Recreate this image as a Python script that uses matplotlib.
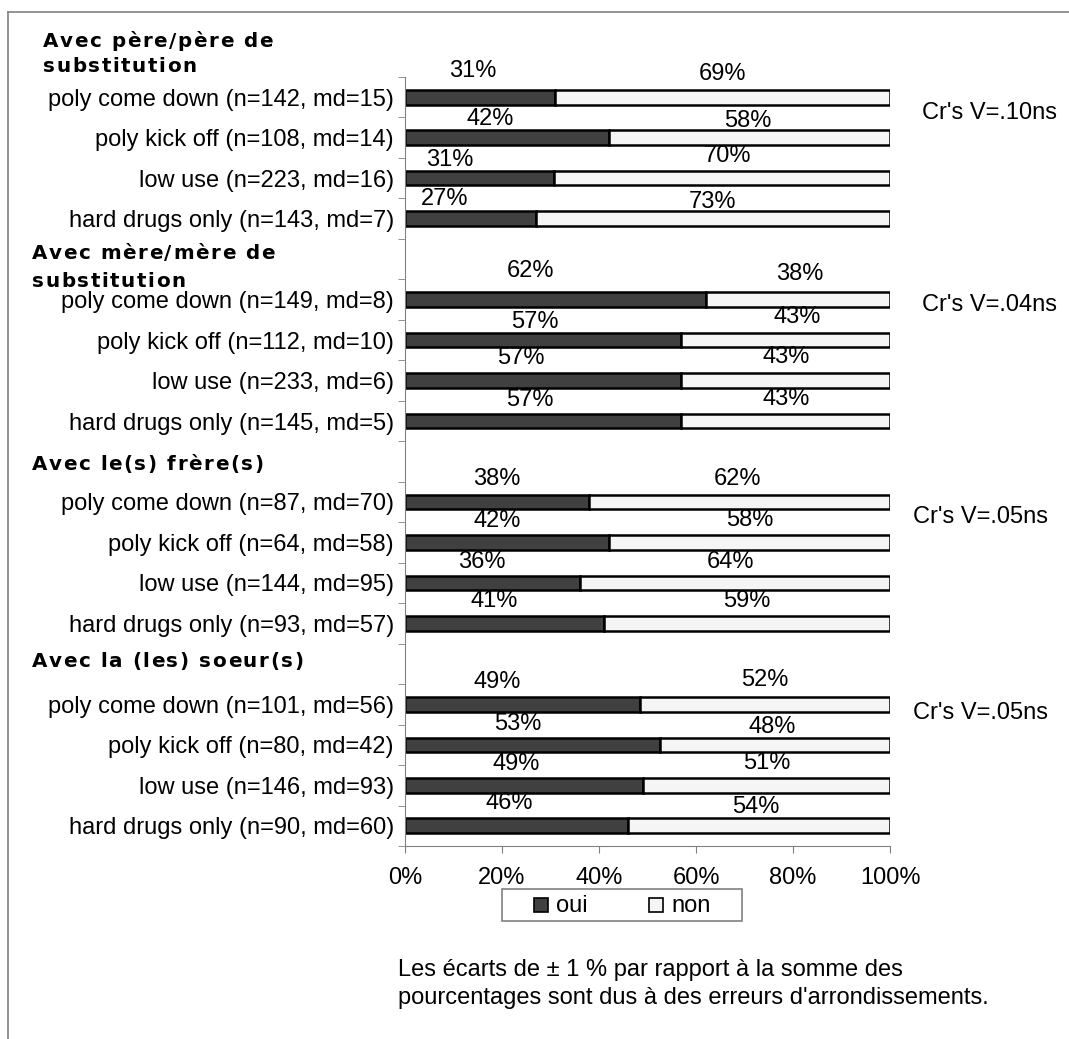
import matplotlib.pyplot as plt
import numpy as np
from matplotlib.patches import Rectangle
from matplotlib.lines import Line2D
from matplotlib.font_manager import FontProperties

plt.rcParams['font.family'] = ['Liberation Sans', 'DejaVu Sans']

W, H = 1069, 1039

groups = [["Avec père/père de", "substitution"],
          ["Avec mère/mère de", "substitution"],
          ["Avec le(s) frère(s)"],
          ["Avec la (les) soeur(s)"]]

row_labels = [
    ["poly come down (n=142, md=15)", "poly kick off (n=108, md=14)",
     "low use (n=223, md=16)", "hard drugs only (n=143, md=7)"],
    ["poly come down (n=149, md=8)", "poly kick off (n=112, md=10)",
     "low use (n=233, md=6)", "hard drugs only (n=145, md=5)"],
    ["poly come down (n=87, md=70)", "poly kick off (n=64, md=58)",
     "low use (n=144, md=95)", "hard drugs only (n=93, md=57)"],
    ["poly come down (n=101, md=56)", "poly kick off (n=80, md=42)",
     "low use (n=146, md=93)", "hard drugs only (n=90, md=60)"],
]

oui = [[31, 42, 31, 27],
       [62, 57, 57, 57],
       [38, 42, 36, 41],
       [49, 53, 49, 46]]
non = [[69, 58, 70, 73],
       [38, 43, 43, 43],
       [62, 58, 64, 59],
       [52, 48, 51, 54]]

cramer = ["Cr's V=.10ns", "Cr's V=.04ns", "Cr's V=.05ns", "Cr's V=.05ns"]

note = ["Les écarts de ± 1 % par rapport à la somme des",
        "pourcentages sont dus à des erreurs d'arrondissements."]

# hand-placed data labels: pixel nudges from the segment centre / bar centre
oui_dx = [[-7, -17, -30, -26], [-25, -8, -22, -13],
          [0, -10, -10, -10], [-25, -14, -8, -7]]
oui_dy = [[26, 19, 18.5, 19.5], [29, 18, 22.5, 21.5],
          [23, 21, 21, 22], [22.5, 21, 21, 22.5]]
non_dx = [[0, -2, 6, 0], [2, 11, 0, 0],
          [-2, 0, -4, 0], [0, -3, 0, -3]]
non_dy = [[23.5, 16.5, 22, 17], [25.5, 23.5, 23.5, 22.5],
          [23, 22, 21, 22], [24, 18, 22, 18.5]]

DARK = "#404040"
LIGHT = "#f5f5f5"
GREY = "#808080"
FS = 17

fig = plt.figure(figsize=(W / 100, H / 100), dpi=100)
ax_l, ax_r, ax_t, ax_b = 405, 890, 77, 846
ax = fig.add_axes([ax_l / W, 1 - ax_b / H, (ax_r - ax_l) / W, (ax_b - ax_t) / H])
slot_px = (ax_b - ax_t) / 19
pct_px = (ax_r - ax_l) / 100

# rows: 4 bars per group, one empty slot between groups
positions = [[g * 5 + i for i in range(4)] for g in range(4)]

for g in range(4):
    pos = np.array(positions[g])
    o = np.array(oui[g], dtype=float)
    n = np.array(non[g], dtype=float)
    tot = o + n
    o_w = o / tot * 100
    n_w = n / tot * 100
    ax.barh(pos, o_w, height=0.36, color=DARK, edgecolor="black", linewidth=1.8)
    ax.barh(pos, n_w, left=o_w, height=0.36, color=LIGHT, edgecolor="black",
            linewidth=1.8)
    for k in range(4):
        ax.text(o_w[k] / 2 + oui_dx[g][k] / pct_px,
                pos[k] - oui_dy[g][k] / slot_px, f"{oui[g][k]}%",
                ha="center", va="center", fontsize=FS)
        ax.text(o_w[k] + n_w[k] / 2 + non_dx[g][k] / pct_px,
                pos[k] - non_dy[g][k] / slot_px, f"{non[g][k]}%",
                ha="center", va="center", fontsize=FS)

ax.set_xlim(0, 100)
ax.set_ylim(18.5, -0.5)
ax.set_xticks(np.arange(0, 101, 20))
ax.set_xticklabels([f"{v}%" for v in range(0, 101, 20)], fontsize=FS)
ax.tick_params(axis="x", length=5, color=GREY, pad=10)

all_pos = [p for grp in positions for p in grp]
all_lab = [l for grp in row_labels for l in grp]
ax.set_yticks(all_pos)
ax.set_yticklabels(all_lab, fontsize=FS)
ax.set_yticks(np.arange(-0.5, 19, 1), minor=True)
ax.tick_params(axis="y", which="major", length=0, pad=8)
ax.tick_params(axis="y", which="minor", length=5, color=GREY)

for side in ["top", "right"]:
    ax.spines[side].set_visible(False)
for side in ["left", "bottom"]:
    ax.spines[side].set_color(GREY)


def spaced_text(x_px, y_px, s, prop, track_px):
    # letter-spaced text, one glyph at a time, baseline at y_px
    renderer = fig.canvas.get_renderer()
    ref_w = renderer.get_text_width_height_descent("|", prop, ismath=False)[0]
    for i, ch in enumerate(s):
        w = renderer.get_text_width_height_descent(s[:i] + "|", prop,
                                                   ismath=False)[0] - ref_w
        fig.text((x_px + w + i * track_px) / W, 1 - y_px / H, ch,
                 fontproperties=prop, ha="left", va="baseline")


head_prop = FontProperties(family="DejaVu Sans", weight="bold", size=14.3)
head_x = [43, 32, 32, 32]
head_base = [[47, 72], [259, 287], [470], [667]]
for g in range(4):
    for line, yb in zip(groups[g], head_base[g]):
        spaced_text(head_x[g], yb, line, head_prop, 1.6)

# Cramer's V on the right
cr_y = [113, 305, 517, 713]
cr_x = [922, 922, 913, 913]
for g in range(4):
    fig.text(cr_x[g] / W, 1 - cr_y[g] / H, cramer[g], fontsize=FS,
             ha="left", va="center")

# legend box
fig.add_artist(Rectangle((502 / W, 1 - 921 / H), 240 / W, 32 / H,
                         transform=fig.transFigure, facecolor="white",
                         edgecolor=GREY, linewidth=1.2))
for x0, face, lab in [(534, DARK, "oui"), (649, LIGHT, "non")]:
    fig.add_artist(Rectangle((x0 / W, 1 - 912 / H), 14 / W, 14 / H,
                             transform=fig.transFigure, facecolor=face,
                             edgecolor="black", linewidth=1.2))
    fig.text((x0 + 22) / W, 1 - 906 / H, lab, fontsize=FS, ha="left",
             va="center")

for line, yc in zip(note, [970, 998]):
    fig.text(398 / W, 1 - yc / H, line, fontsize=FS, ha="left", va="center")

# outer frame (top and left edges)
fig.add_artist(Line2D([8 / W, 1.0], [1 - 12 / H, 1 - 12 / H],
                      color=GREY, linewidth=1.2))
fig.add_artist(Line2D([8 / W, 8 / W], [0.0, 1 - 12 / H],
                      color=GREY, linewidth=1.2))

fig.savefig("out.png", dpi=100)
